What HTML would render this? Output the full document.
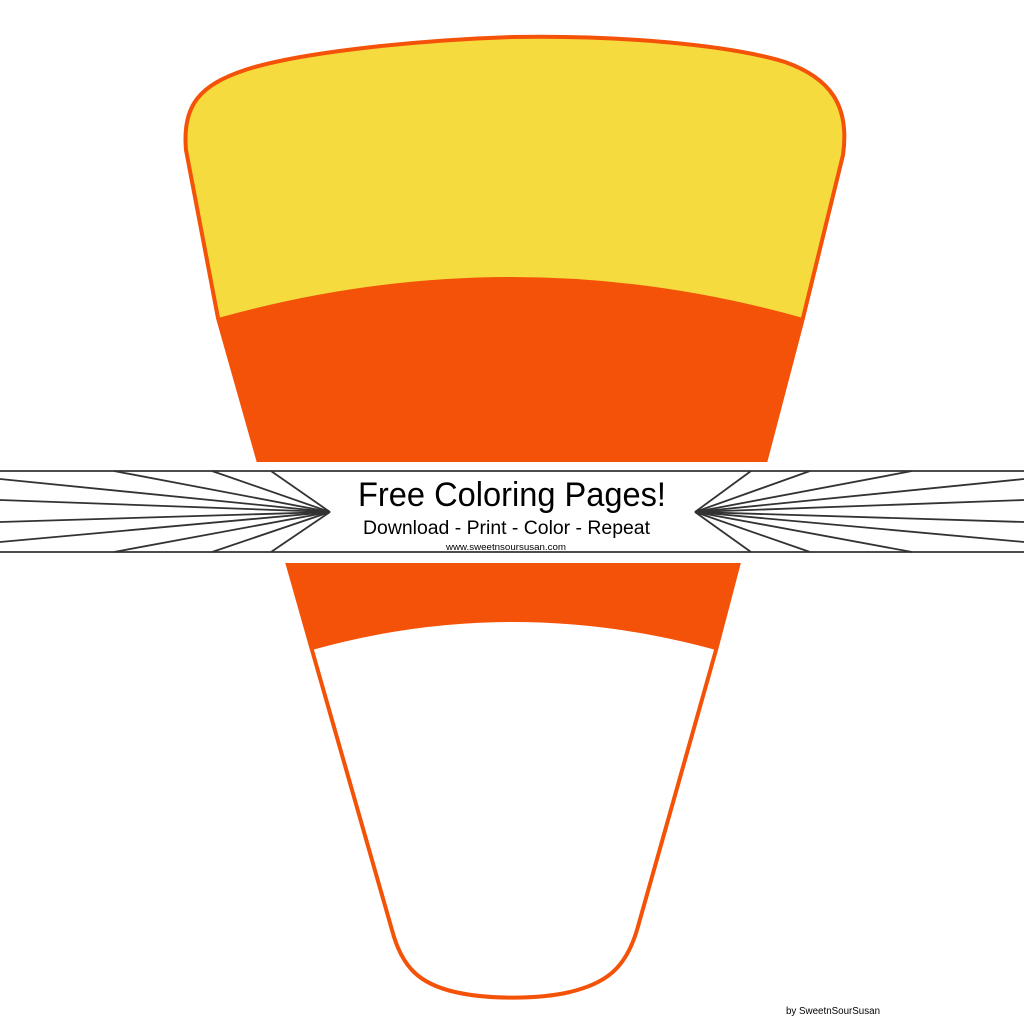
<!DOCTYPE html>
<html><head><style>html,body{margin:0;padding:0;background:#fff}svg{display:block}</style></head>
<body>
<svg width="1024" height="1024" viewBox="0 0 1024 1024" xmlns="http://www.w3.org/2000/svg">
<defs>
<clipPath id="c"><path d="M186,150 C182,105 200,85 245,70 C300,52 420,40 512,37 C620,35 730,45 785,62 C830,78 850,105 843,155 L803,318 L716,650 L637,930 C625,970 605,983 570,992 C540,999 490,1000 455,992 C420,984 402,968 392,930 L312,650 L218,318 Z"/></clipPath>
</defs>
<g clip-path="url(#c)">
<rect x="0" y="0" width="1024" height="1024" fill="#fff"/>
<rect x="0" y="0" width="1024" height="320" fill="#f5db3e"/>
<path d="M150,330 L218,318 Q512,236 803,318 L900,330 L900,660 L716,650 Q512,594 312,650 L150,660 Z" fill="#f35208"/>
</g>
<path d="M186,150 C182,105 200,85 245,70 C300,52 420,40 512,37 C620,35 730,45 785,62 C830,78 850,105 843,155 L803,318 L716,650 L637,930 C625,970 605,983 570,992 C540,999 490,1000 455,992 C420,984 402,968 392,930 L312,650 L218,318 Z" fill="none" stroke="#f35208" stroke-width="4"/>
<rect x="0" y="462" width="1024" height="101" fill="#fff"/>
<g stroke="#333" stroke-width="1.8" fill="none">
<line x1="0" y1="471" x2="1024" y2="471"/>
<line x1="0" y1="552" x2="1024" y2="552"/>
<line x1="330" y1="512" x2="114" y2="471"/>
<line x1="330" y1="512" x2="212" y2="471"/>
<line x1="330" y1="512" x2="271" y2="471"/>
<line x1="330" y1="512" x2="114" y2="552"/>
<line x1="330" y1="512" x2="212" y2="552"/>
<line x1="330" y1="512" x2="271" y2="552"/>
<line x1="330" y1="512" x2="0" y2="479"/>
<line x1="330" y1="512" x2="0" y2="500"/>
<line x1="330" y1="512" x2="0" y2="522"/>
<line x1="330" y1="512" x2="0" y2="542"/>
<line x1="695" y1="512" x2="751" y2="471"/>
<line x1="695" y1="512" x2="810" y2="471"/>
<line x1="695" y1="512" x2="912" y2="471"/>
<line x1="695" y1="512" x2="751" y2="552"/>
<line x1="695" y1="512" x2="810" y2="552"/>
<line x1="695" y1="512" x2="912" y2="552"/>
<line x1="695" y1="512" x2="1024" y2="479"/>
<line x1="695" y1="512" x2="1024" y2="500"/>
<line x1="695" y1="512" x2="1024" y2="522"/>
<line x1="695" y1="512" x2="1024" y2="542"/>
</g>
<g font-family="Liberation Sans, sans-serif" fill="#000">
<text x="358" y="506" font-size="34" textLength="308" lengthAdjust="spacingAndGlyphs">Free Coloring Pages!</text>
<text x="363" y="534" font-size="19" textLength="287" lengthAdjust="spacingAndGlyphs">Download - Print - Color - Repeat</text>
<text x="446" y="550" font-size="9" textLength="120" lengthAdjust="spacingAndGlyphs">www.sweetnsoursusan.com</text>
<text x="786" y="1014" font-size="10" textLength="94" lengthAdjust="spacingAndGlyphs">by SweetnSourSusan</text>
</g>
</svg>
</body></html>
